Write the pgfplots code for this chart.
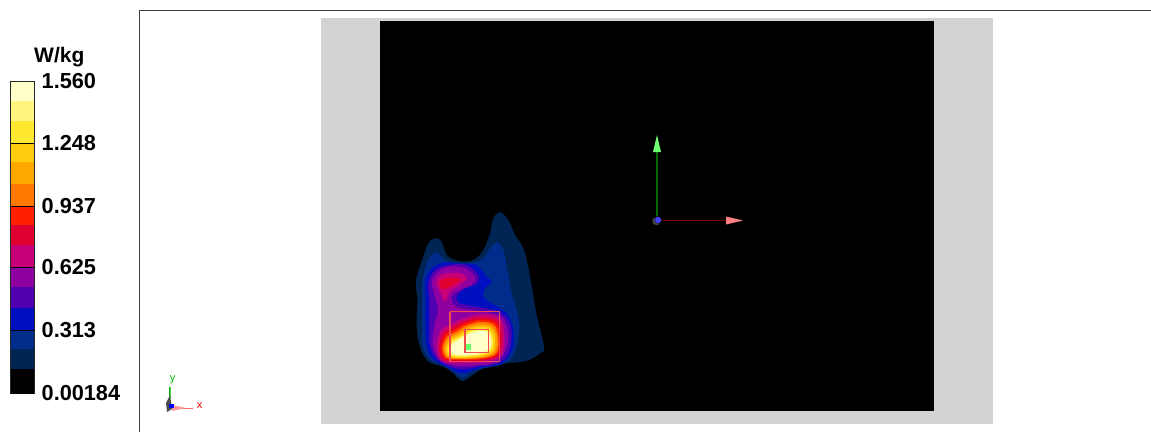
\documentclass[border=0pt]{standalone}
\usepackage{pgfplots}
\pgfplotsset{compat=1.18}
\usepackage{fontspec}
\setmainfont{Liberation Sans}
\definecolor{c1}{HTML}{002555}\definecolor{c2}{HTML}{002C8C}\definecolor{c3}{HTML}{0010C0}
\definecolor{c4}{HTML}{5000B0}\definecolor{c5}{HTML}{9000A0}\definecolor{c6}{HTML}{C80078}
\definecolor{c7}{HTML}{E00030}\definecolor{c8}{HTML}{FF2000}\definecolor{c9}{HTML}{FF7800}
\definecolor{c10}{HTML}{FFA800}\definecolor{c11}{HTML}{FFCC10}\definecolor{c12}{HTML}{FFE830}
\definecolor{c13}{HTML}{FFF580}\definecolor{c14}{HTML}{FFFFC8}
\definecolor{pane}{HTML}{D3D3D3}\definecolor{boxc}{HTML}{F04A50}
\pgfplotsset{canvas/.style={scale only axis,width=1151pt,height=432pt,hide axis,y dir=reverse,clip=true},
 band/.style={draw=none,fill=#1},
 lvl/.style={draw=none,fill=#1,smooth cycle,tension=0.6}}
\newcommand{\cbar}[3]{\addplot[band=#1] coordinates {(10.5,#2)(34,#2)(34,#3)(10.5,#3)} -- cycle;}
\begin{document}
\begin{tikzpicture}
\path[use as bounding box] (0,0) rectangle (1151pt,432pt);
% ---------- page furniture, in image pixels
\begin{axis}[canvas,xmin=0,xmax=1151,ymin=0,ymax=432]
\addplot[black!75,line width=1pt] coordinates {(139.5,432)(139.5,10.5)(1151,10.5)};
\addplot[band=pane] coordinates {(321,18)(993,18)(993,424)(321,424)} -- cycle;
\addplot[band=black] coordinates {(380,21)(934,21)(934,411)(380,411)} -- cycle;
% colour bar
\cbar{c14}{81}{101}\cbar{c13}{101}{121}\cbar{c12}{121}{143}\cbar{c11}{143}{162}
\cbar{c10}{162}{184}\cbar{c9}{184}{206}\cbar{c8}{206}{225}\cbar{c7}{225}{245}
\cbar{c6}{245}{267}\cbar{c5}{267}{287}\cbar{c4}{287}{308}\cbar{c3}{308}{330}
\cbar{c2}{330}{349}\cbar{c1}{349}{369}\cbar{black}{369}{394}
\addplot[black!85,line width=1pt] coordinates {(10.5,394)(10.5,81)(34,81)(34,394)};
\addplot[black,line width=1pt] coordinates {(10.5,143)(34,143)};
\addplot[black,line width=1pt] coordinates {(10.5,206)(34,206)};
\addplot[black,line width=1pt] coordinates {(10.5,267)(34,267)};
\addplot[black,line width=1pt] coordinates {(10.5,330)(34,330)};
\begin{scope}[every node/.style={anchor=west,inner sep=0pt,font=\fontsize{21.7}{22}\selectfont\bfseries}]
\node at (axis cs:41.5,81) {1.560};
\node at (axis cs:41.5,143) {1.248};
\node at (axis cs:41.5,206) {0.937};
\node at (axis cs:41.5,267) {0.625};
\node at (axis cs:41.5,330) {0.313};
\node at (axis cs:41.5,393) {0.00184};
\end{scope}
\node[anchor=west,inner sep=0pt,font=\fontsize{21}{21}\selectfont\bfseries] at (axis cs:34,57) {W/kg};
% large axis triad
\addplot[color=green!40!black,line width=1.5pt] coordinates {(657,220)(657,152)};
\addplot[color=red!50!black,line width=1.5pt] coordinates {(657,220.5)(726,220.5)};
\addplot[band={green!55!white}] coordinates {(657,135)(653,152)(661,152)} -- cycle;
\addplot[band={red!50!white}] coordinates {(726,216.5)(743,220.5)(726,224.5)} -- cycle;
\addplot[only marks,mark=*,mark size=4.5pt,mark options={draw=none,fill=black!70}] coordinates {(656.5,221)};
\addplot[only marks,mark=*,mark size=3.5pt,mark options={draw=none,fill=blue!75!white}] coordinates {(658,220)};
% small triad
\addplot[color=green!70!black,line width=1.5pt] coordinates {(169.5,408)(170,387)};
\addplot[color=red!60!white,line width=1.5pt] coordinates {(169,408.5)(193,408.5)};
\addplot[band={black!70}] coordinates {(166,403)(170,395)(172,409)(167,412)} -- cycle;
\addplot[band={red!40!white}] coordinates {(172,405)(186,408)(172,411)} -- cycle;
\addplot[band=blue] coordinates {(169,404)(174,404)(174,408)(169,408)} -- cycle;
\node[text=green!70!black,inner sep=0pt,font=\fontsize{11}{11}\selectfont] at (axis cs:172.5,380) {y};
\node[text=red,inner sep=0pt,font=\fontsize{11}{11}\selectfont] at (axis cs:199.5,406) {x};
\end{axis}
% ---------- the measured field, in scan units
\begin{axis}[canvas,xmin=-1200,xmax=2253,ymin=-600,ymax=696]
\addplot[lvl=c1] coordinates {(300,37)(325,60)(345,105)(372,150)(390,230)(410,345)(432,440)(420,460)(380,482)(320,490)(260,500)(225,520)(188,543)(160,520)(130,500)(85,485)(60,440)(50,380)(52,300)(48,240)(70,170)(85,130)(105,115)(125,125)(140,165)(175,183)(220,180)(250,150)(270,100)(280,55)};
\addplot[lvl=c2] coordinates {(292,128)(310,150)(320,200)(335,280)(350,330)(358,380)(350,435)(335,475)(300,495)(250,505)(220,512)(190,533)(160,515)(130,497)(90,478)(68,440)(66,380)(66,300)(68,240)(85,180)(110,158)(135,180)(170,190)(220,188)(250,175)(270,145)};
\addplot[lvl=c3] coordinates {(230,195)(260,230)(275,245)(255,265)(250,290)(275,310)(300,325)(325,345)(340,390)(337,450)(305,490)(250,502)(190,520)(150,505)(100,478)(80,440)(76,380)(76,300)(76,240)(95,205)(130,188)(180,190)};
\addplot[lvl=c4] coordinates {(200,195)(235,225)(232,250)(195,265)(170,290)(180,310)(230,320)(295,335)(325,360)(335,400)(326,460)(295,490)(240,499)(190,508)(150,500)(108,475)(88,430)(88,380)(88,300)(84,250)(105,210)(145,195)};
\addplot[lvl=c5] coordinates {(195,205)(225,230)(215,255)(180,270)(155,290)(170,320)(250,335)(305,350)(325,400)(315,455)(280,490)(240,495)(190,500)(150,494)(115,475)(98,430)(105,370)(115,330)(105,290)(95,245)(115,215)(150,200)};
\addplot[lvl=c6] coordinates {(180,220)(200,235)(180,255)(150,275)(135,305)(120,275)(110,255)(110,240)(130,222)};
\addplot[lvl=c6] coordinates {(110,440)(122,392)(155,372)(185,357)(240,343)(298,354)(313,404)(305,467)(262,484)(213,489)(154,489)(122,481)};
\addplot[lvl=c7] coordinates {(120,245)(135,235)(180,235)(175,245)(150,260)(130,268)(120,260)};
\addplot[lvl=c7] coordinates {(117,443)(130,398)(160,381)(190,364)(240,352)(292,361)(306,406)(299,463)(260,480)(212,484)(156,484)(128,478)};
\addplot[lvl=c8] coordinates {(123,444)(136,405)(166,388)(194,371)(240,359)(286,368)(300,408)(294,460)(258,476)(211,480)(158,480)(134,474)};
\addplot[lvl=c9] coordinates {(128,445)(141,411)(171,394)(198,377)(240,366)(281,374)(295,410)(290,458)(256,473)(210,477)(160,477)(138,472)};
\addplot[lvl=c10] coordinates {(133,446)(146,416)(175,400)(202,383)(240,373)(276,380)(290,412)(285,455)(254,470)(209,475)(162,475)(142,469)};
\addplot[lvl=c11] coordinates {(138,447)(150,420)(178,405)(205,388)(240,379)(272,385)(285,414)(280,452)(252,467)(208,473)(164,473)(146,467)};
\addplot[lvl=c12] coordinates {(142,448)(154,424)(181,409)(208,393)(240,385)(268,390)(280,416)(276,449)(250,464)(207,470)(166,470)(149,464)};
\addplot[lvl=c13] coordinates {(146,448)(157,427)(183,412)(210,397)(240,389)(265,394)(276,418)(272,447)(248,461)(206,467)(168,467)(152,461)};
\addplot[lvl=c14] coordinates {(150,448)(160,430)(185,415)(212,400)(240,393)(262,398)(272,420)(268,445)(245,458)(205,464)(170,464)(155,458)};
\addplot[color=boxc,line width=1.5pt] coordinates {(150,335)(298,335)(298,485)(150,485)(150,335)};
\addplot[color=boxc,line width=1.5pt] coordinates {(195,388)(265,388)(265,458)(195,458)(195,388)};
\addplot[band={green!60!white}] coordinates {(198,432)(214,432)(214,450)(198,450)} -- cycle;
\end{axis}
\end{tikzpicture}
\end{document}
